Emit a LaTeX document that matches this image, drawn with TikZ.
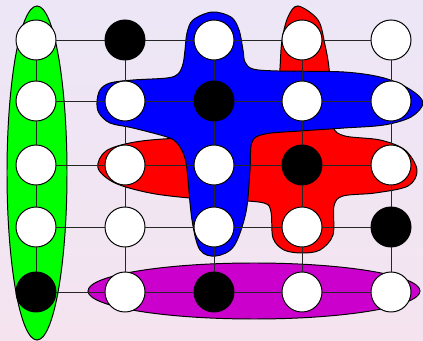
\documentclass[tikz,border=0pt]{standalone}
\usepackage{tikz}
\usetikzlibrary{positioning}
\definecolor{bgtop}{RGB}{236,230,246}
\definecolor{bgbottom}{RGB}{245,228,240}
\definecolor{hypgreen}{RGB}{0,255,0}
\definecolor{hypblue}{RGB}{0,0,255}
\definecolor{hypred}{RGB}{255,0,0}
\definecolor{hypmagenta}{RGB}{204,0,204}

\begin{document}
\begin{tikzpicture}[x=0.025cm, y=-0.025cm,
      vertex/.style={circle, draw, line width=0.7pt, fill=white,
                     minimum size=1cm, inner sep=0pt},
      hull/.style={draw, line width=0.7pt},
      link/.style={line width=0.7pt, draw=black!85}]
    \fill[top color=bgtop, bottom color=bgbottom] (0,0) rectangle (423,341);
    \useasboundingbox (0,0) rectangle (423,341);

    % hyperedges
    \filldraw[hull, fill=hypgreen] (37,173) ellipse [x radius=30, y radius=167];
    \filldraw[hull, fill=hypmagenta] (254,291) ellipse [x radius=166, y radius=28];
    \filldraw[hull, fill=hypred] plot[smooth cycle, tension=0.55] coordinates {
      (298,6) (318,20) (325,45) (329,68) (331,100) (333,127) (345,136)
      (380,140) (405,150) (417,170) (408,186) (375,193) (343,196)
      (334,206) (333,235) (320,250) (302,253) (284,250) (273,238)
      (271,212) (264,203) (230,200) (190,198) (150,193) (115,183)
      (98,168) (106,151) (135,142) (180,138) (250,136) (272,128)
      (278,100) (280,68) (282,40) (288,17)};
    \filldraw[hull, fill=hypblue] plot[smooth cycle, tension=0.55] coordinates {
      (212,12) (231,17) (239,30) (243,50) (245,62) (253,69) (278,71)
      (344,72) (384,78) (411,90) (423,103) (411,117) (384,125) (344,128)
      (300,131) (265,134) (252,142) (250,170) (246,212) (234,246)
      (216,256) (200,250) (192,220) (187,170) (184,155) (177,143)
      (167,137) (133,128) (110,123) (99,113) (97,102) (100,90) (110,83)
      (133,80) (167,78) (178,74) (183,64) (185,50) (187,33) (193,20)};

    % vertices
    \foreach \nm/\x/\y/\f in {
        11/36/40/white, 21/125/40/black, 31/214/40/white, 41/302/40/white, 51/391/40/white,
        12/36/101/white, 22/125/101/white, 32/214/101/black, 42/302/101/white, 52/391/101/white,
        13/36/165/white, 23/125/165/white, 33/214/165/white, 43/302/165/black, 53/391/165/white,
        14/36/227/white, 24/125/227/white, 34/214/227/white, 44/302/227/white, 54/391/227/black,
        15/36/292/black, 25/125/292/white, 35/214/292/black, 45/302/292/white, 55/391/292/white}
      \node[vertex, fill=\f] (n\nm) at (\x,\y) {};

    % grid edges
    \foreach \r in {1,...,5}
      \foreach \c/\d in {1/2,2/3,3/4,4/5} {
        \draw[link] (n\c\r) -- (n\d\r);
        \draw[link] (n\r\c) -- (n\r\d);
      }
  \end{tikzpicture}
\end{document}
